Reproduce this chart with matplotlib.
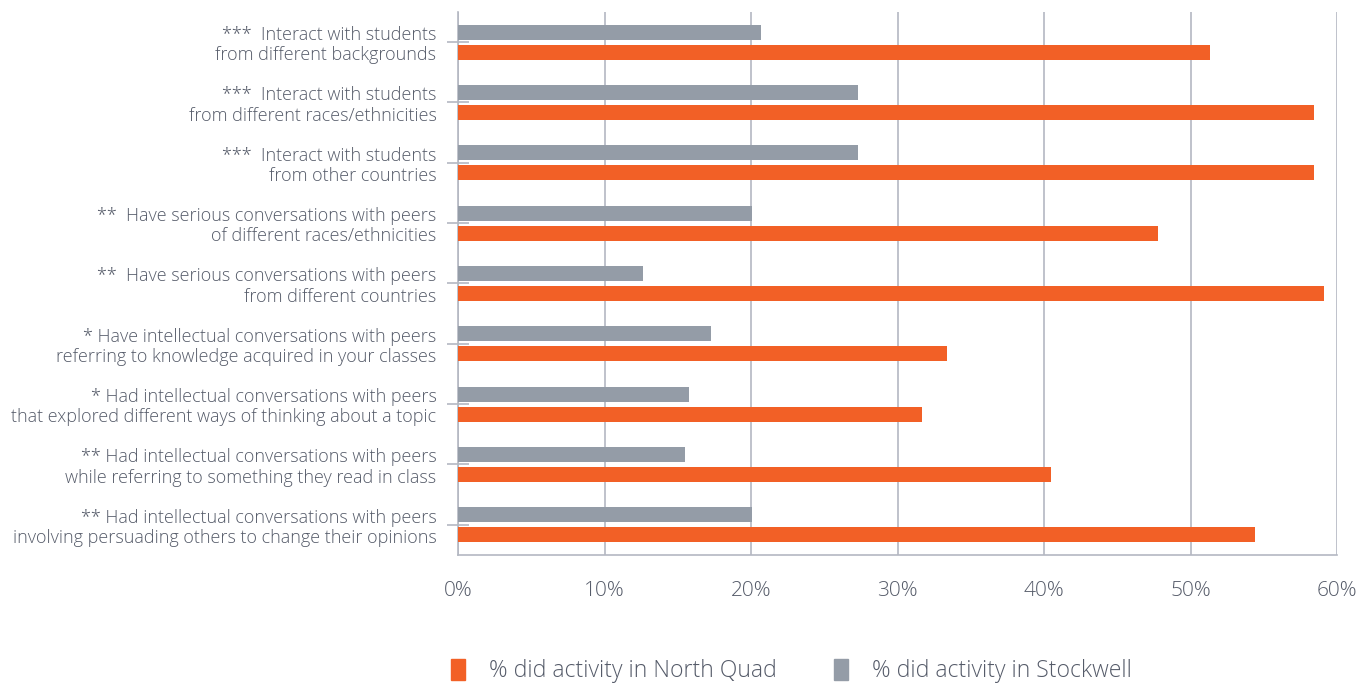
import matplotlib
matplotlib.use("Agg")
import matplotlib.pyplot as plt
import numpy as np
from matplotlib.patches import Patch

categories = [
    "***  Interact with students\nfrom different backgrounds",
    "***  Interact with students\nfrom different races/ethnicities",
    "***  Interact with students\nfrom other countries",
    "**  Have serious conversations with peers\nof different races/ethnicities",
    "**  Have serious conversations with peers\nfrom different countries",
    "* Have intellectual conversations with peers\nreferring to knowledge acquired in your classes",
    "* Had intellectual conversations with peers\nthat explored different ways of thinking about a topic",
    "** Had intellectual conversations with peers\nwhile referring to something they read in class",
    "** Had intellectual conversations with peers\ninvolving persuading others to change their opinions",
]
stockwell = [20.7, 27.3, 27.3, 20.1, 12.6, 17.3, 15.8, 15.5, 20.1]
north_quad = [51.3, 58.4, 58.4, 47.8, 59.1, 33.4, 31.7, 40.5, 54.4]
x_ticks = [0, 10, 20, 30, 40, 50, 60]

ORANGE = "#F26026"
GREY = "#949CA7"
TEXT = "#555B69"
LINE = "#B4B8C2"

plt.rcParams["font.family"] = ["Open Sans", "DejaVu Sans"]

fig = plt.figure(figsize=(13.72, 6.88), dpi=100)
ax = fig.add_axes([458 / 1372, 1 - 555 / 688, 879 / 1372, 543 / 688])

y = np.arange(len(categories))
ax.barh(y - 0.165, stockwell, height=0.25, color=GREY, zorder=3)
ax.barh(y + 0.165, north_quad, height=0.25, color=ORANGE, zorder=3)

ax.set_xlim(0, 60)
ax.set_ylim(len(categories) - 0.5, -0.5)
ax.set_xticks(x_ticks)
ax.set_xticklabels([f"{t}%" for t in x_ticks], fontsize=15, color=TEXT,
                   fontweight="light")
ax.tick_params(axis="x", length=0, pad=19)
ax.xaxis.grid(True, color=LINE, linewidth=1.2, zorder=0)

ax.set_yticks(y)
ax.set_yticklabels(categories, fontsize=13, color=TEXT, ha="right",
                   linespacing=1.15, fontweight="light")
ax.tick_params(axis="y", direction="inout", length=16, width=1.2,
               color=LINE, pad=7.5)

for side in ("top", "right"):
    ax.spines[side].set_visible(False)
for side in ("left", "bottom"):
    ax.spines[side].set_color(LINE)
    ax.spines[side].set_linewidth(1.2)

handles = [Patch(color=ORANGE, label="% did activity in North Quad"),
           Patch(color=GREY, label="% did activity in Stockwell")]
fig.legend(handles=handles, loc="center", bbox_to_anchor=(0.577, 1 - 671 / 688),
           ncol=2, frameon=False, handlelength=0.6, handleheight=1.0,
           handletextpad=1.05, columnspacing=2.5, labelcolor=TEXT,
           prop={"weight": "light", "size": 16.6})

fig.savefig("out.png", dpi=100)
plt.close(fig)
